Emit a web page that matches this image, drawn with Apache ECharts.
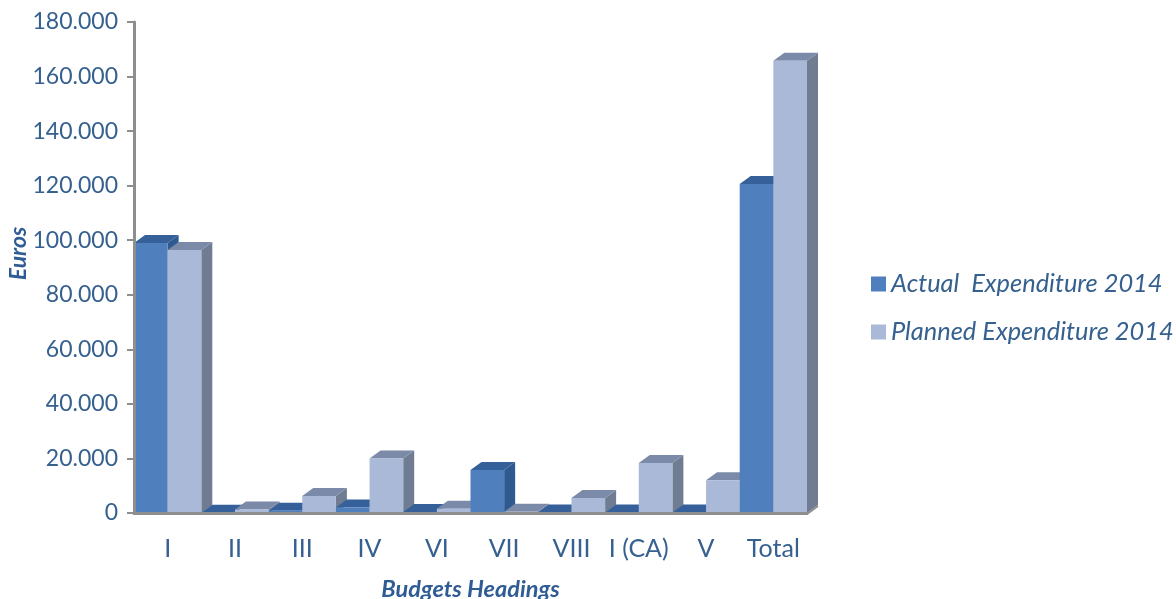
<!DOCTYPE html>
<html>
<head>
<meta charset="utf-8">
<style>html,body{margin:0;padding:0;background:#fff}#chart{width:1176px;height:599px}</style>
<script src="https://cdn.jsdelivr.net/npm/echarts@6/dist/echarts.min.js"></script>
</head>
<body>
<div id="chart"></div>
<script>
// Budget headings on the category axis
const categories = ['I', 'II', 'III', 'IV', 'VI', 'VII', 'VIII', 'I (CA)', 'V', 'Total'];
// Expenditure in euros per heading
const actualExpenditure = [99000, 100, 800, 2000, 400, 15800, 200, 200, 200, 120600];
const plannedExpenditure = [96400, 1300, 6200, 20000, 1600, 500, 5500, 18300, 12000, 165800];

const TEXT = '#35608f';
const TITLE = '#2f5c94';
const AXIS = '#8e8e8e';
const FONT = 'Lato, "Open Sans", sans-serif';
const DEPTH_X = 11;
const DEPTH_Y = 8;

const formatEuro = v => v === 0 ? '0' : (v / 1000) + '.000';

// Draws one extruded column; slot 0 sits left of the category centre, slot 1 right of it.
function prismRenderer(slot, colors) {
  return function (params, api) {
    const idx = api.value(0);
    const base = api.coord([idx, 0]);
    const top = api.coord([idx, api.value(1)]);
    const w = api.size([1, 0])[0] / 2;
    const x0 = base[0] - w + slot * w;
    const x1 = x0 + w;
    const y0 = base[1];
    const y1 = top[1];
    const order = idx * 2 + slot;
    const poly = (points, fill) => ({
      type: 'polygon',
      z2: order,
      shape: { points },
      style: { fill, stroke: null }
    });
    const children = [
      poly([[x1, y0], [x1 + DEPTH_X, y0 - DEPTH_Y], [x1 + DEPTH_X, y1 - DEPTH_Y], [x1, y1]], colors.side),
      poly([[x0, y1], [x0 + DEPTH_X, y1 - DEPTH_Y], [x1 + DEPTH_X, y1 - DEPTH_Y], [x1, y1]], colors.top),
      poly([[x0, y0], [x1, y0], [x1, y1], [x0, y1]], colors.front)
    ];
    // Floor edge receding behind the last column
    if (slot === 1 && idx === categories.length - 1) {
      children.push({
        type: 'line',
        z2: order + 1,
        shape: { x1: x1, y1: y0 + 1, x2: x1 + DEPTH_X, y2: y0 - DEPTH_Y + 1 },
        style: { stroke: AXIS, lineWidth: 2 }
      });
    }
    return { type: 'group', children };
  };
}

const chart = echarts.init(document.getElementById('chart'), null, { renderer: 'canvas' });
chart.setOption({
  animation: false,
  backgroundColor: '#ffffff',
  grid: { left: 134, right: 369, top: 22, bottom: 86, containLabel: false, outerBoundsMode: 'none' },
  legend: {
    orient: 'vertical',
    left: 871,
    top: 267,
    padding: 0,
    itemWidth: 15,
    itemHeight: 15,
    itemGap: 14,
    selectedMode: false,
    icon: 'rect',
    textStyle: { color: TEXT, fontFamily: FONT, fontStyle: 'italic', fontSize: 25.4, lineHeight: 34 },
    data: ['Actual  Expenditure 2014', 'Planned Expenditure 2014']
  },
  xAxis: {
    type: 'category',
    data: categories,
    name: 'Budgets Headings',
    nameLocation: 'middle',
    nameGap: 65,
    nameMoveOverlap: false,
    z: 3,
    nameTextStyle: { color: TITLE, fontFamily: FONT, fontStyle: 'italic', fontWeight: 'bold', fontSize: 23.5 },
    axisLine: { onZero: true, lineStyle: { color: AXIS, width: 3 } },
    axisTick: { show: false },
    axisLabel: { color: TEXT, fontFamily: FONT, fontSize: 25, margin: 23, interval: 0 },
    splitLine: { show: false }
  },
  yAxis: {
    type: 'value',
    min: 0,
    max: 180000,
    interval: 20000,
    name: 'Euros',
    nameLocation: 'middle',
    nameGap: 104,
    nameRotate: 90,
    nameMoveOverlap: false,
    z: 3,
    nameTextStyle: { color: TITLE, fontFamily: FONT, fontStyle: 'italic', fontWeight: 'bold', fontSize: 23, padding: [0, 0, 0, 28] },
    axisLine: { show: true, lineStyle: { color: AXIS, width: 3 } },
    axisTick: { show: true, length: 7, lineStyle: { color: AXIS, width: 2 } },
    axisLabel: { color: TEXT, fontFamily: FONT, fontSize: 23, margin: 16, formatter: formatEuro },
    splitLine: { show: false }
  },
  series: [
    {
      name: 'Actual  Expenditure 2014',
      type: 'custom',
      clip: false,
      itemStyle: { color: '#4f7fbc' },
      encode: { x: 0, y: 1 },
      data: actualExpenditure.map((v, i) => [i, v]),
      renderItem: prismRenderer(0, { front: '#4f7fbc', top: '#36609a', side: '#2f5a90' })
    },
    {
      name: 'Planned Expenditure 2014',
      type: 'custom',
      clip: false,
      itemStyle: { color: '#aab9d8' },
      encode: { x: 0, y: 1 },
      data: plannedExpenditure.map((v, i) => [i, v]),
      renderItem: prismRenderer(1, { front: '#aab9d8', top: '#7b8aa8', side: '#6f7c92' })
    }
  ]
});
</script>
</body>
</html>
